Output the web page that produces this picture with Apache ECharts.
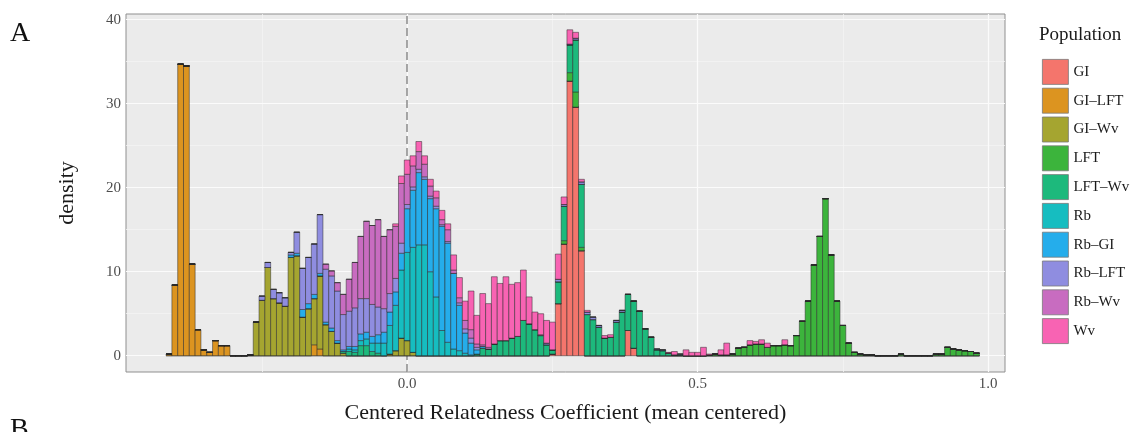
<!DOCTYPE html>
<html>
<head>
<meta charset="utf-8">
<script src="https://cdn.jsdelivr.net/npm/echarts@6/dist/echarts.min.js"></script>
<style>
  html, body { margin: 0; padding: 0; background: #ffffff; }
  #chart { width: 1138px; height: 432px; }
</style>
</head>
<body>
<div id="chart"></div>
<script>
// Histogram bins are 0.01 wide, centred on every hundredth from -0.41 to 0.98
const BIN_WIDTH = 0.01;
const BIN_FIRST = -41;
const BIN_LAST = 98;

const POPULATIONS = ['GI', 'GI\u2013LFT', 'GI\u2013Wv', 'LFT', 'LFT\u2013Wv', 'Rb', 'Rb\u2013GI', 'Rb\u2013LFT', 'Rb\u2013Wv', 'Wv'];
const COLORS = ['#F4756C', '#DC9420', '#A5A530', '#3CB43C', '#1DB97C', '#16BDC0', '#25ADEB', '#8F8DE0', '#C86CC0', '#F863B3'];

// Density of each population per bin, listed from the first bin it reaches
const GI_FROM = 0.25;
const GI = [0.2, 6.2, 13.3, 32.7, 29.6, 12.5, 0, 0, 0, 0, 0, 0, 0, 3.0, 0.9];

const GI_LFT_FROM = -0.41;
const GI_LFT = [0.2, 8.4, 34.7, 34.5, 10.9, 3.1, 0.7, 0.4, 1.8, 1.2, 1.2,
  0, 0, 0, 0, 0, 0, 0, 0, 0, 0, 0, 0, 0, 0, 1.3, 0.8];

const GI_WV_FROM = -0.27;
const GI_WV = [0.1, 4.0, 6.6, 10.5, 6.8, 6.3, 5.9, 11.7, 11.9, 4.6, 5.6, 5.5, 8.7, 3.7, 2.9, 1.5, 0.3,
  0, 0, 0, 0, 0, 0, 0, 0.2, 0.6, 2.1, 1.8, 0.4];

const LFT_FROM = 0.27;
const LFT = [0.4, 1.0, 1.8, 0.4,
  0, 0, 0, 0, 0, 0, 0, 0, 0, 0, 0, 0, 0, 0, 0, 0, 0, 0, 0, 0, 0,
  0.1, 0.2, 0.1, 0.1, 0.2, 0.9, 1.0, 1.3, 1.4, 1.4, 1.0, 1.2, 1.2, 1.3, 1.2, 2.4, 4.1, 6.5, 10.8, 14.2,
  18.7, 12.0, 6.5, 3.6, 1.5, 0.4, 0.2, 0.1, 0.1, 0, 0, 0, 0, 0.2, 0, 0, 0, 0, 0, 0.2, 0.2,
  1.0, 0.8, 0.7, 0.6, 0.5, 0.3];

const LFT_WV_FROM = -0.11;
const LFT_WV = [0.2, 0.5, 0.4, 1.2, 1.2, 0.5, 0.3,
  0, 0, 0, 0, 0, 0, 0, 0, 0, 0, 0, 0, 0, 0, 0, 0,
  0.2, 0.9, 0.8, 1.4, 1.8, 1.8, 2.1, 2.3, 4.2, 3.8, 3.1, 2.4, 1.3, 0.5, 2.6, 4.1, 3.3, 6.2, 7.5,
  4.9, 4.3, 3.4, 2.1, 2.2, 4.0, 5.2, 4.3, 5.6, 5.3, 3.2, 2.2, 0.7, 0.6, 0.3, 0.1, 0.1];

const RB_FROM = -0.10;
const RB = [0.3, 0.3, 0.6, 0.8, 1.0, 1.2, 1.5, 3.4, 5.4, 8.1, 10.5, 12.5, 13.2, 13.2, 10.0, 7.0, 3.0,
  1.6, 0.8, 0.6, 0.3, 0.1];

const RB_GI_FROM = -0.20;
const RB_GI = [0.3, 0.3, 0.9, 0.6, 0.5, 0.3, 0.3, 0.4, 0.3, 0.2, 0.3, 0.4, 0.8, 0.8, 0.8, 1.0, 1.3,
  1.6, 1.6, 2.0, 5.2, 6.8, 8.6, 7.8, 8.7, 10.5, 12.4, 11.8, 9.0, 5.4, 2.4, 1.4, 0.5, 0.2];

const RB_LFT_FROM = -0.25;
const RB_LFT = [0.5, 0.6, 1.1, 1.2, 1.0, 0.3, 2.5, 4.9, 5.5, 6.0, 7.0, 6.3, 6.2, 5.9, 4.2, 4.2, 4.6,
  4.2, 4.0, 3.8, 3.3, 2.8, 2.2, 1.6, 1.2, 0.5, 0.4, 0.4, 0.3, 0.3, 0.3, 0.2, 0.2, 0, 0.3, 0.5, 0.6, 0.3,
  0, 0, 0, 0, 0, 0, 0, 0, 0, 0, 0,
  0.2, 0, 0.3, 0.2, 0.1, 0.2, 0.3, 0.3, 0.3, 0.2, 0, 0, 0.2, 0.2, 0, 0, 0, 0, 0, 0.1, 0.1, 0, 0, 0.1];

const RB_WV_FROM = -0.14;
const RB_WV = [0.6, 0.6, 1.0, 2.4, 3.8, 5.4, 7.4, 9.2, 9.4, 10.4, 8.6, 7.6, 6.2, 7.1, 3.6, 2.5, 2.1,
  1.5, 1.2, 1.0, 0.6, 1.4, 0.4, 0.6, 1.0, 1.0, 0.4, 0.2, 0.2, 0, 0, 0, 0, 0, 0, 0, 0, 0.1];

const WV_FROM = -0.02;
const WV = [0.3, 0.9, 1.7, 1.2, 1.2, 1.0, 0.8, 0.8, 1.1, 0.7, 1.8, 2.4, 2.3, 4.6, 3.4, 6.1, 5.2, 8.0,
  6.8, 7.6, 6.4, 6.4, 6.0, 3.2, 2.1, 2.5, 2.7, 3.3, 3.0, 0.9, 1.7, 0.7, 0.3, 0.2, 0, 0, 0.3, 0.3,
  0, 0, 0, 0, 0, 0, 0, 0, 0,
  0.1, 0.4, 0, 0.7, 0.4, 0.4, 1.0, 0.1, 0, 0.6, 1.4, 0, 0, 0, 0.5, 0.3, 0.5, 0.5, 0, 0, 0.6];

const STARTS = [GI_FROM, GI_LFT_FROM, GI_WV_FROM, LFT_FROM, LFT_WV_FROM, RB_FROM, RB_GI_FROM, RB_LFT_FROM, RB_WV_FROM, WV_FROM];
const DENSITIES = [GI, GI_LFT, GI_WV, LFT, LFT_WV, RB, RB_GI, RB_LFT, RB_WV, WV];

const X_TICKS = [0, 0.5, 1];
const Y_TICKS = [0, 10, 20, 30, 40];
const X_MINOR = [-0.25, 0.25, 0.75];
const Y_MINOR = [5, 15, 25, 35];

const FONT = "'Liberation Serif', 'DejaVu Serif', serif";

// Density of one population in bin k (hundredths), zero outside its listed run
function densityAt(p, k) {
  const i = k - Math.round(STARTS[p] * 100);
  const vals = DENSITIES[p];
  return i >= 0 && i < vals.length ? vals[i] : 0;
}

// Stack populations bin by bin: each item is [bin centre, lower edge, upper edge]
const stacked = POPULATIONS.map(() => []);
for (let k = BIN_FIRST; k <= BIN_LAST; k++) {
  let base = 0;
  for (let p = 0; p < POPULATIONS.length; p++) {
    const top = base + densityAt(p, k);
    stacked[p].push([k / 100, base, top]);
    base = top;
  }
}

function renderBin(params, api) {
  const x = api.value(0);
  const lo = api.coord([x - BIN_WIDTH / 2, api.value(1)]);
  const hi = api.coord([x + BIN_WIDTH / 2, api.value(2)]);
  return {
    type: 'rect',
    shape: { x: lo[0], y: hi[1], width: hi[0] - lo[0], height: lo[1] - hi[1] },
    style: api.style({ stroke: '#2a2a2a', lineWidth: 0.5 })
  };
}

const barSeries = POPULATIONS.map((name, i) => ({
  name: name,
  type: 'custom',
  renderItem: renderBin,
  data: stacked[i],
  encode: { x: 0, y: [1, 2] },
  itemStyle: { color: COLORS[i], borderColor: '#2a2a2a', borderWidth: 0.5 },
  emphasis: { disabled: true },
  silent: true,
  z: 10
}));

// Panel grid lines and the dashed reference line at zero
const guideLines = [];
X_MINOR.forEach(v => guideLines.push({ xAxis: v, lineStyle: { color: '#F4F4F4', width: 0.8, type: 'solid' } }));
Y_MINOR.forEach(v => guideLines.push({ yAxis: v, lineStyle: { color: '#F4F4F4', width: 0.8, type: 'solid' } }));
X_TICKS.forEach(v => guideLines.push({ xAxis: v, lineStyle: { color: '#FBFBFB', width: 1.2, type: 'solid' } }));
Y_TICKS.forEach(v => guideLines.push({ yAxis: v, lineStyle: { color: '#FBFBFB', width: 1.2, type: 'solid' } }));
guideLines.push({ xAxis: 0, lineStyle: { color: '#8a8a8a', width: 1.5, type: [8, 4] } });

const guideSeries = {
  type: 'line',
  data: [],
  silent: true,
  z: 1,
  markLine: {
    silent: true,
    symbol: 'none',
    animation: false,
    label: { show: false },
    emphasis: { disabled: true },
    data: guideLines
  }
};

const chart = echarts.init(document.getElementById('chart'));
chart.setOption({
  animation: false,
  backgroundColor: '#ffffff',
  textStyle: { fontFamily: FONT },
  title: {
    text: 'Population',
    left: 1034,
    top: 21,
    textStyle: { fontFamily: FONT, fontSize: 19, fontWeight: 'normal', color: '#1a1a1a' }
  },
  legend: {
    data: POPULATIONS,
    orient: 'vertical',
    left: 1037,
    top: 54,
    itemWidth: 26,
    itemHeight: 25,
    itemGap: 3,
    icon: 'rect',
    selectedMode: false,
    itemStyle: { borderColor: '#7a7a7a', borderWidth: 0.8 },
    textStyle: { fontFamily: FONT, fontSize: 15, color: '#1a1a1a' }
  },
  graphic: [
    { type: 'text', left: 10, top: 20, style: { text: 'A', font: '28px ' + FONT, fill: '#111' } },
    { type: 'text', left: 10, top: 416, style: { text: 'B', font: '28px ' + FONT, fill: '#111' } }
  ],
  grid: {
    left: 126, top: 14, width: 879, height: 358,
    show: true, backgroundColor: '#EBEBEB', borderColor: '#8f8f8f', borderWidth: 1
  },
  xAxis: {
    type: 'value',
    min: -0.484,
    max: 1.029,
    axisLine: { show: false },
    splitLine: { show: false },
    axisTick: { show: true, customValues: X_TICKS, length: 4, lineStyle: { color: '#333333' } },
    axisLabel: {
      customValues: X_TICKS,
      formatter: v => v.toFixed(1),
      fontFamily: FONT, fontSize: 15, color: '#4d4d4d', margin: 5
    },
    name: 'Centered Relatedness Coefficient (mean centered)',
    nameLocation: 'middle',
    nameGap: 30,
    nameTextStyle: { fontFamily: FONT, fontSize: 22, color: '#1a1a1a' }
  },
  yAxis: {
    type: 'value',
    min: -1.94,
    max: 40.68,
    axisLine: { show: false },
    splitLine: { show: false },
    axisTick: { show: true, customValues: Y_TICKS, length: 4, lineStyle: { color: '#333333' } },
    axisLabel: {
      customValues: Y_TICKS,
      fontFamily: FONT, fontSize: 15, color: '#4d4d4d', margin: 5
    },
    name: 'density',
    nameLocation: 'middle',
    nameGap: 48,
    nameTextStyle: { fontFamily: FONT, fontSize: 22, color: '#1a1a1a' }
  },
  series: [guideSeries].concat(barSeries)
});
</script>
</body>
</html>
